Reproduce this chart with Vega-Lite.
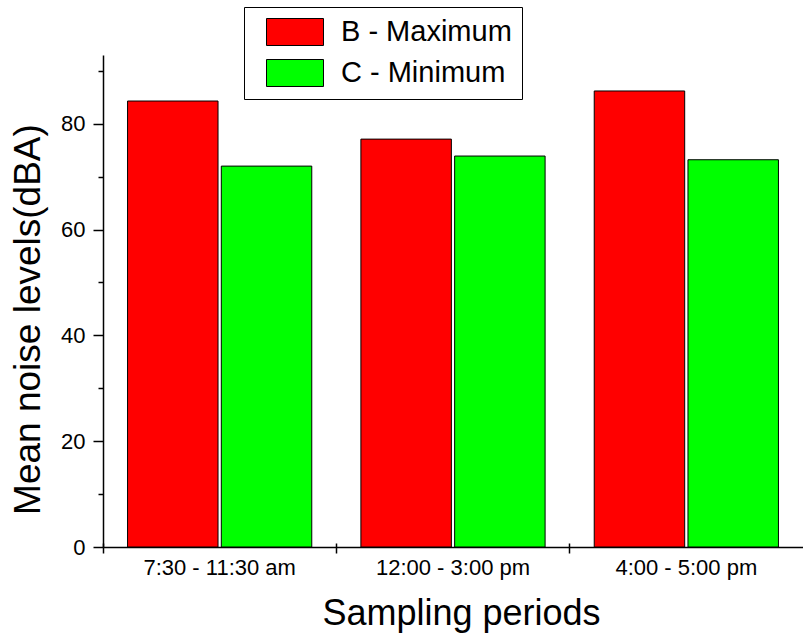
{
  "$schema": "https://vega.github.io/schema/vega-lite/v6.json",
  "width": 700,
  "height": 492,
  "autosize": {"type": "none"},
  "padding": {"left": 103, "top": 55, "right": 0, "bottom": 89},
  "background": "white",
  "config": {
    "view": {"stroke": null},
    "font": "Liberation Sans",
    "axis": {
      "labelFont": "Liberation Sans",
      "titleFont": "Liberation Sans",
      "titleFontWeight": "normal",
      "domainColor": "black",
      "tickColor": "black",
      "labelColor": "black",
      "titleColor": "black",
      "grid": false
    },
    "legend": {
      "labelFont": "Liberation Sans"
    }
  },
  "data": {
    "values": [
      {"period": "7:30 - 11:30 am", "series": "B - Maximum", "value": 84.3},
      {"period": "7:30 - 11:30 am", "series": "C - Minimum", "value": 72.0},
      {"period": "12:00 - 3:00 pm", "series": "B - Maximum", "value": 77.1},
      {"period": "12:00 - 3:00 pm", "series": "C - Minimum", "value": 73.9},
      {"period": "4:00 - 5:00 pm", "series": "B - Maximum", "value": 86.2},
      {"period": "4:00 - 5:00 pm", "series": "C - Minimum", "value": 73.2}
    ]
  },
  "resolve": {"axis": {"x": "independent"}},
  "layer": [
    {
      "mark": {"type": "bar", "stroke": "black", "strokeWidth": 1},
      "encoding": {
        "x": {
          "field": "period",
          "type": "nominal",
          "sort": null,
          "scale": {"paddingInner": 0, "paddingOuter": 0},
          "axis": {
            "orient": "bottom",
            "title": "Sampling periods",
            "titleFontSize": 36,
            "titleBaseline": "alphabetic",
            "titleY": 77,
            "titleX": 358,
            "labelFontSize": 22,
            "labelAngle": 0,
            "labelPadding": 4,
            "tickSize": 6,
            "tickWidth": 1.5,
            "domainWidth": 1.5,
            "bandPosition": 0
          }
        },
        "xOffset": {
          "field": "series",
          "type": "nominal",
          "scale": {"paddingInner": 0.035, "paddingOuter": 0.262}
        },
        "y": {
          "field": "value",
          "type": "quantitative",
          "scale": {"domain": [0, 93], "nice": false, "zero": true},
          "axis": {
            "title": "Mean noise levels(dBA)",
            "titleFontSize": 37,
            "titleBaseline": "alphabetic",
            "titleX": -64,
            "titleY": 264,
            "labelFontSize": 22,
            "labelPadding": 8,
            "values": [0, 10, 20, 30, 40, 50, 60, 70, 80, 90],
            "labelExpr": "datum.value % 20 === 0 ? datum.label : ''",
            "tickSize": {"condition": {"test": "datum.value % 20 === 0", "value": 10}, "value": 5},
            "tickWidth": 1.5,
            "domainWidth": 1.5
          }
        },
        "fill": {
          "field": "series",
          "type": "nominal",
          "scale": {"domain": ["B - Maximum", "C - Minimum"], "range": ["#ff0000", "#00ff00"]},
          "legend": {
            "title": null,
            "orient": "none",
            "legendX": 141,
            "legendY": -48,
            "direction": "vertical",
            "padding": 10,
            "strokeColor": "black",
            "fillColor": "white",
            "cornerRadius": 0,
            "symbolType": "M-2,-0.947H2V0.947H-2Z",
            "symbolSize": 812,
            "symbolStrokeColor": "black",
            "symbolStrokeWidth": 1,
            "symbolOpacity": 1,
            "symbolOffset": 26,
            "labelFontSize": 29,
            "labelOffset": 31,
            "labelLimit": 400,
            "labelColor": "black",
            "rowPadding": 9
          }
        }
      }
    },
    {
      "mark": {"type": "tick", "opacity": 0},
      "encoding": {
        "x": {
          "field": "period",
          "type": "nominal",
          "sort": null,
          "axis": {
            "orient": "bottom",
            "title": null,
            "labels": false,
            "domain": false,
            "tickSize": -4,
            "tickWidth": 1.5,
            "bandPosition": 0
          }
        }
      }
    }
  ]
}
